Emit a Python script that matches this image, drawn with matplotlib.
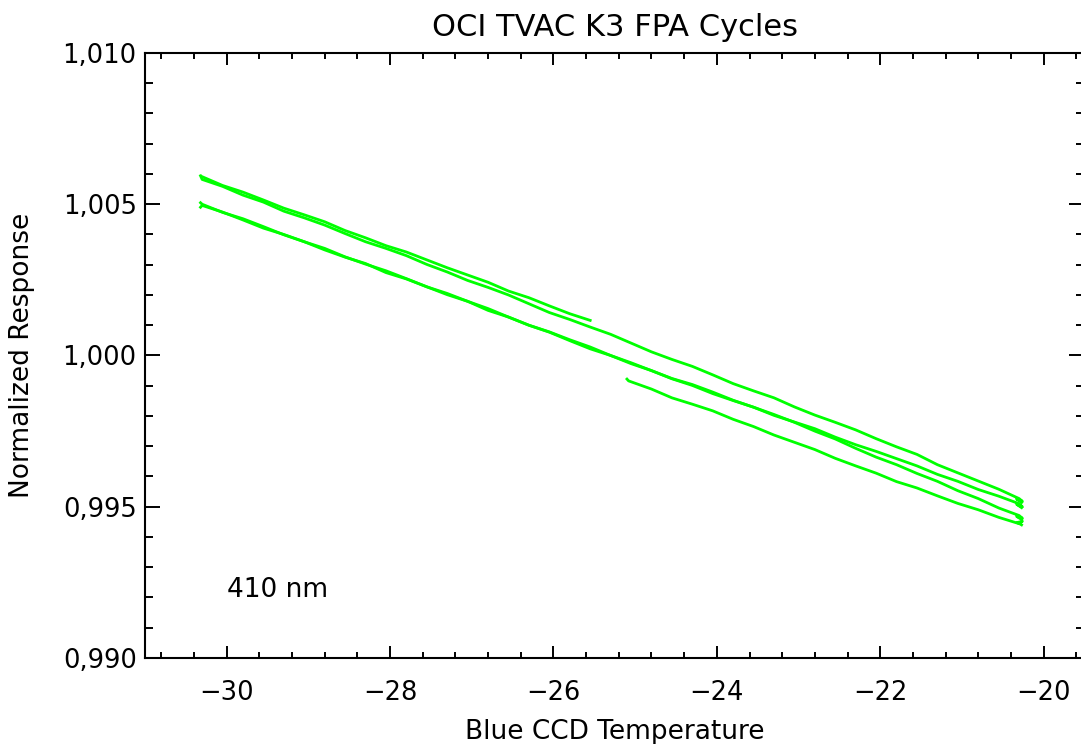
import matplotlib
matplotlib.use("Agg")
import matplotlib.pyplot as plt
from matplotlib.ticker import MultipleLocator, FixedLocator, FixedFormatter

# grid of temperatures used by the long cycles
temp_full = [-30.32, -30.30, -30.05, -29.80, -29.55, -29.30, -29.05, -28.80, -28.55, -28.30,
             -28.05, -27.80, -27.55, -27.30, -27.05, -26.80, -26.55, -26.30,
             -26.05, -25.80, -25.55, -25.30, -25.05, -24.80, -24.55, -24.30,
             -24.05, -23.80, -23.55, -23.30, -23.05, -22.80, -22.55, -22.30,
             -22.05, -21.80, -21.55, -21.30, -21.05, -20.80, -20.55, -20.30,
             -20.26, -20.33, -20.27]

# upper cycle going all the way
resp_upper_long = [1.00594, 1.00582, 1.00559, 1.00530, 1.00507, 1.00477, 1.00455, 1.00431, 1.00403, 1.00376,
                   1.00354, 1.00330, 1.00301, 1.00276, 1.00248, 1.00225, 1.00200, 1.00171,
                   1.00142, 1.00119, 1.00094, 1.00070, 1.00041, 1.00012, 0.99987, 0.99964,
                   0.99936, 0.99907, 0.99883, 0.99860, 0.99830, 0.99803, 0.99779, 0.99754,
                   0.99725, 0.99698, 0.99673, 0.99639, 0.99612, 0.99585, 0.99558, 0.99527,
                   0.99518, 0.99525, 0.99514]

# upper cycle that stops near -25.5
temp_upper_short = [-30.30, -30.05, -29.80, -29.55, -29.30, -29.05, -28.80, -28.55, -28.30,
                    -28.05, -27.80, -27.55, -27.30, -27.05, -26.80, -26.55, -26.30,
                    -26.05, -25.80, -25.55]
resp_upper_short = [1.00591, 1.00562, 1.00540, 1.00514, 1.00487, 1.00465, 1.00442, 1.00413, 1.00389,
                    1.00363, 1.00342, 1.00316, 1.00290, 1.00266, 1.00242, 1.00213, 1.00191,
                    1.00164, 1.00138, 1.00116]

# lower pair
resp_lower_a = [1.00490, 1.00496, 1.00474, 1.00448, 1.00421, 1.00400, 1.00376, 1.00349, 1.00325, 1.00304,
                1.00274, 1.00253, 1.00227, 1.00201, 1.00179, 1.00149, 1.00127, 1.00100,
                1.00077, 1.00049, 1.00022, 1.00000, 0.99973, 0.99950, 0.99923, 0.99901,
                0.99874, 0.99851, 0.99829, 0.99802, 0.99780, 0.99758, 0.99730, 0.99705,
                0.99683, 0.99659, 0.99635, 0.99607, 0.99584, 0.99557, 0.99535, 0.99510,
                0.99500, 0.99508, 0.99497]
resp_lower_b = [1.00505, 1.00500, 1.00473, 1.00452, 1.00426, 1.00399, 1.00376, 1.00354, 1.00326, 1.00302,
                1.00280, 1.00254, 1.00227, 1.00205, 1.00179, 1.00155, 1.00127, 1.00100,
                1.00078, 1.00052, 1.00028, 1.00000, 0.99976, 0.99950, 0.99924, 0.99904,
                0.99879, 0.99852, 0.99829, 0.99805, 0.99779, 0.99750, 0.99724, 0.99693,
                0.99664, 0.99639, 0.99610, 0.99584, 0.99553, 0.99527, 0.99496, 0.99471,
                0.99462, 0.99468, 0.99458]

# short lower cycle starting near -25.1
temp_lower_short = [-25.10, -25.08, -24.80, -24.55, -24.30, -24.05, -23.80, -23.55, -23.30,
                    -23.05, -22.80, -22.55, -22.30, -22.05, -21.80, -21.55, -21.30,
                    -21.05, -20.80, -20.55, -20.30, -20.26, -20.32, -20.27]
resp_lower_short = [0.99922, 0.99916, 0.99889, 0.99860, 0.99839, 0.99817, 0.99789, 0.99765, 0.99737,
                    0.99713, 0.99689, 0.99660, 0.99635, 0.99611, 0.99583, 0.99562, 0.99536,
                    0.99511, 0.99490, 0.99465, 0.99444, 0.99452, 0.99448, 0.99440]

y_ticks = [0.990, 0.995, 1.000, 1.005, 1.010]
y_labels = ["0,990", "0,995", "1,000", "1,005", "1,010"]

plt.rcParams['font.family'] = ['DejaVu Sans']

fig = plt.figure(figsize=(10.81, 7.44), dpi=100)
ax = fig.add_axes([0.1341, 0.1156, 0.8691, 0.8132])

green = '#00ff00'
ax.plot(temp_full, resp_upper_long, color=green, lw=2)
ax.plot(temp_upper_short, resp_upper_short, color=green, lw=2)
ax.plot(temp_full, resp_lower_a, color=green, lw=2)
ax.plot(temp_full, resp_lower_b, color=green, lw=2)
ax.plot(temp_lower_short, resp_lower_short, color=green, lw=2)

ax.set_xlim(-31, -19.5)
ax.set_ylim(0.990, 1.010)

ax.xaxis.set_major_locator(MultipleLocator(2))
ax.xaxis.set_minor_locator(MultipleLocator(0.4))
ax.yaxis.set_major_locator(FixedLocator(y_ticks))
ax.yaxis.set_major_formatter(FixedFormatter(y_labels))
ax.yaxis.set_minor_locator(MultipleLocator(0.001))

ax.tick_params(axis='both', which='both', direction='in', top=True, right=True, width=1.4)
ax.tick_params(axis='x', which='major', length=8.6, pad=16, labelsize=18.5)
ax.tick_params(axis='x', which='minor', length=4.3)
ax.tick_params(axis='y', which='major', length=10.8, pad=6, labelsize=18.5)
ax.tick_params(axis='y', which='minor', length=5.8)
for s in ax.spines.values():
    s.set_linewidth(1.5)
# right axis sits just past the image edge in the original
ax.spines['right'].set_visible(False)

ax.set_xlabel("Blue CCD Temperature", fontsize=19, labelpad=9)
ax.set_ylabel("Normalized Response", fontsize=19, labelpad=20)
ax.set_title("OCI TVAC K3 FPA Cycles", fontsize=22, pad=12)
ax.text(-30.0, 0.99225, "410 nm", fontsize=19, va='center', ha='left')

fig.savefig("out.png", dpi=100)
